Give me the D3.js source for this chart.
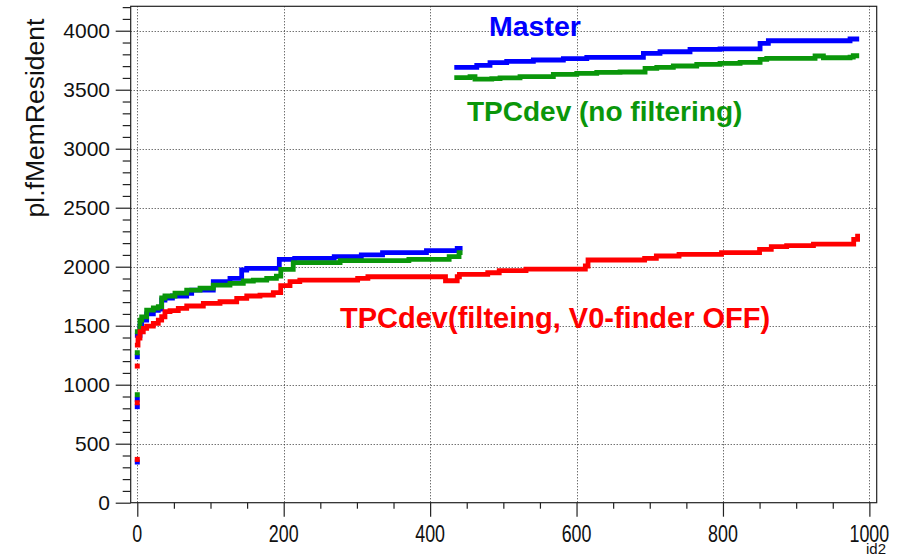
<!DOCTYPE html>
<html>
<head>
<meta charset="utf-8">
<script src="https://cdn.jsdelivr.net/npm/d3@7"></script>
<style>
  html, body { margin: 0; padding: 0; background: #fff; }
  svg { display: block; }
  text { font-family: "Liberation Sans", Arial, Helvetica, sans-serif; }
</style>
</head>
<body>
<svg id="chart" width="905" height="557"></svg>
<script>
// Resident memory (pl.fMemResident) versus event index (id2), step breakpoints [id2, value]
const masterLow = [[0,1419],[3.7,1500],[6,1547],[12.8,1600],[21.9,1631],[28.7,1640],[33.3,1718],[37.8,1735],[48,1752],[67.5,1775],[74.3,1802],[103.8,1873],[126.6,1901],[142.6,1972],[149.5,1986],[194,2063],[215,2071],[269,2085],[306,2100],[335,2119],[395,2136],[437,2156],[441,2156]];
const masterHigh = [[436.3,3690],[463.7,3706],[481.8,3729],[504.6,3741],[541,3752],[582,3763],[614,3774],[691.3,3808],[714,3822],[755,3842],[796,3847],[850.7,3893],[862,3915],[973.6,3930],[982.8,3930]];
const noFilterLow = [[0,1449],[3.7,1547],[6,1575],[12.8,1632],[21.9,1650],[28.7,1661],[33.3,1735],[37.8,1752],[51.5,1777],[67.5,1802],[85.7,1819],[103.8,1844],[126.6,1859],[144.8,1879],[158.5,1887],[176.8,1901],[190,1921],[196,1978],[213,2034],[277,2051],[371,2063],[426,2085],[439.5,2119],[441,2119]];
const noFilterHigh = [[436.3,3602],[454.5,3611],[461.3,3589],[484.2,3594],[495.5,3600],[522.8,3611],[568.3,3630],[600.3,3639],[627.6,3647],[659.4,3650],[693.6,3681],[709.6,3690],[732.2,3701],[764.2,3715],[796,3723],[823.4,3732],[850.7,3757],[859.8,3766],[925.8,3786],[937.2,3771],[973.6,3776],[978,3788],[982.8,3788]];
const filterV0Off = [[0,1336],[1,1396],[3.7,1449],[8.2,1478],[12.8,1497],[21.9,1520],[28.7,1548],[33.3,1576],[37.8,1619],[44.7,1627],[56,1647],[67.5,1667],[90.2,1690],[113,1703],[135.8,1732],[149.5,1752],[167.6,1760],[185.8,1780],[195.9,1839],[208.6,1873],[222,1887],[301,1901],[315,1915],[421,1881],[437,1915],[440,1935],[478.7,1949],[494.4,1966],[531,1980],[612,2006],[615.7,2057],[693,2071],[709,2091],[740,2105],[798,2119],[850,2147],[866,2170],[887,2178],[923.6,2192],[978.6,2232],[983.9,2260]];

// Single early measurements recorded at id2 = 0
const masterFirst = [1237, 876, 814, 345];
const noFilterFirst = [1271, 915];
const filterFirst = [1158, 847, 367];

const xTicks = [0, 200, 400, 600, 800, 1000];
const yTicks = [0, 500, 1000, 1500, 2000, 2500, 3000, 3500, 4000];
const seriesLabels = ["Master", "TPCdev (no filtering)", "TPCdev(filteing, V0-finder OFF)"];

const W = 905, H = 557;
const margin = {left: 130.7, right: 28.3, top: 6.3, bottom: 54.3};
const svg = d3.select("#chart");

const x = d3.scaleLinear().domain([-9, 1010]).range([margin.left, W - margin.right]);
const y = d3.scaleLinear().domain([0, 4207]).range([H - margin.bottom, margin.top]);

const colors = {master: "#0000ff", noFilter: "#0a960a", filter: "#ff0000"};

// grid
const grid = svg.append("g").attr("stroke", "#333").attr("stroke-width", 1).attr("stroke-dasharray", "1,2");
grid.selectAll("line.gx").data(xTicks).join("line")
  .attr("x1", d => Math.round(x(d)) + 0.5).attr("x2", d => Math.round(x(d)) + 0.5)
  .attr("y1", margin.top).attr("y2", H - margin.bottom);
grid.selectAll("line.gy").data(yTicks.filter(d => d > 0)).join("line")
  .attr("y1", d => Math.round(y(d)) + 0.5).attr("y2", d => Math.round(y(d)) + 0.5)
  .attr("x1", margin.left).attr("x2", W - margin.right);

// series
const line = d3.line().x(d => x(d[0])).y(d => y(d[1])).curve(d3.curveStepAfter);
function drawSeries(data, color) {
  svg.append("path").datum(data).attr("d", line)
    .attr("fill", "none").attr("stroke", color).attr("stroke-width", 4.8)
    .attr("stroke-linejoin", "miter").attr("stroke-linecap", "square");
}
function drawFirst(values, color) {
  svg.append("g").selectAll("rect").data(values).join("rect")
    .attr("x", x(0) - 2.5).attr("y", d => y(d) - 2.5)
    .attr("width", 5).attr("height", 5).attr("fill", color);
}
drawFirst(masterFirst, colors.master);
drawSeries(masterLow, colors.master);
drawSeries(masterHigh, colors.master);
drawFirst(noFilterFirst, colors.noFilter);
drawSeries(noFilterLow, colors.noFilter);
drawSeries(noFilterHigh, colors.noFilter);
drawFirst(filterFirst, colors.filter);
drawSeries(filterV0Off, colors.filter);

// frame
svg.append("rect").attr("x", margin.left).attr("y", margin.top)
  .attr("width", W - margin.left - margin.right).attr("height", H - margin.top - margin.bottom)
  .attr("fill", "none").attr("stroke", "#222").attr("stroke-width", 1.2);

// axes
const xAxis = d3.axisBottom(x).tickValues(d3.range(0, 1001, 50)).tickSize(6).tickFormat("");
svg.append("g").attr("transform", `translate(0,${H - margin.bottom})`).call(xAxis)
  .call(g => g.select(".domain").remove())
  .call(g => g.selectAll(".tick line").attr("stroke", "#222").attr("stroke-width", 1.2)
    .attr("y2", d => d % 200 === 0 ? 14 : 6));
svg.append("g").selectAll("text").data(xTicks).join("text")
  .attr("transform", d => `translate(${x(d)},${H - margin.bottom + 39}) scale(0.85,1.15)`)
  .attr("text-anchor", "middle").attr("font-size", 21).attr("fill", "#111").text(d => d);

const yAxis = d3.axisLeft(y).tickValues(d3.range(0, 4201, 100)).tickSize(8).tickFormat("");
svg.append("g").attr("transform", `translate(${margin.left},0)`).call(yAxis)
  .call(g => g.select(".domain").remove())
  .call(g => g.selectAll(".tick line").attr("stroke", "#222").attr("stroke-width", 1.2)
    .attr("x2", d => d % 500 === 0 ? -15 : -8));
svg.append("g").selectAll("text").data(yTicks).join("text")
  .attr("x", 110).attr("y", d => y(d)).attr("dy", "0.36em")
  .attr("text-anchor", "end").attr("font-size", 21).attr("fill", "#111").text(d => d);

svg.append("text").attr("transform", `translate(44,118) rotate(-90)`)
  .attr("text-anchor", "middle").attr("font-size", 26.5).attr("fill", "#111").text("pl.fMemResident");
svg.append("text").attr("x", 886).attr("y", 554).attr("text-anchor", "end")
  .attr("font-size", 15).attr("fill", "#111").text("id2");

// series labels
svg.append("text").attr("x", 489).attr("y", 36).attr("font-size", 28.5).attr("font-weight", "bold")
  .attr("fill", colors.master).text(seriesLabels[0]);
svg.append("text").attr("x", 467).attr("y", 121).attr("font-size", 28).attr("font-weight", "bold")
  .attr("fill", colors.noFilter).text(seriesLabels[1]);
svg.append("text").attr("x", 340).attr("y", 328).attr("font-size", 29).attr("font-weight", "bold")
  .attr("fill", colors.filter).text(seriesLabels[2]);
</script>
</body>
</html>
